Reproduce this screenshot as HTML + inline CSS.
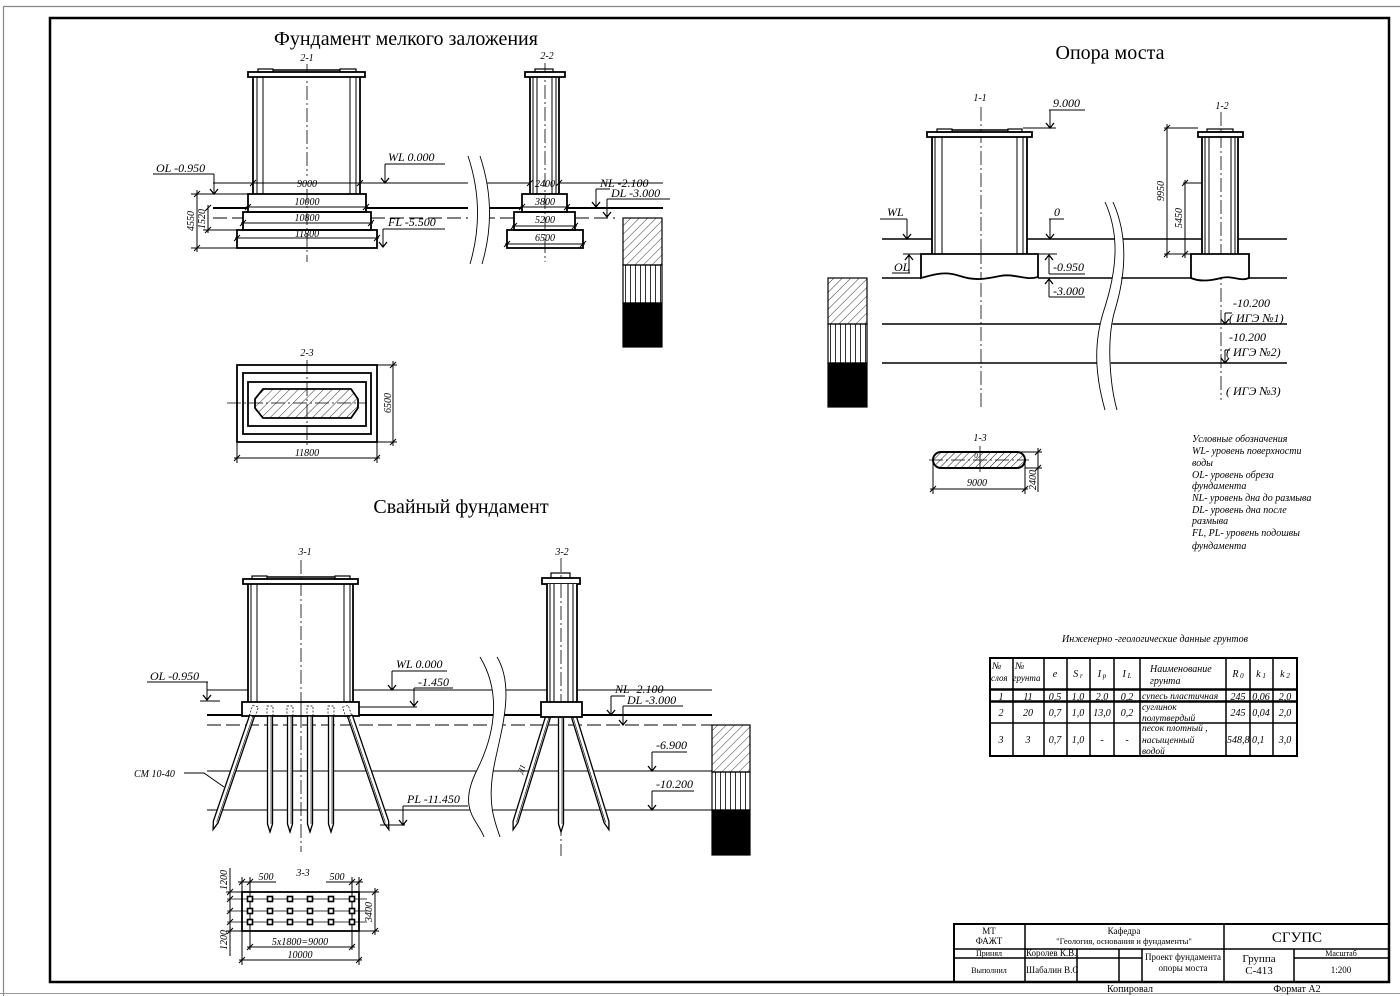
<!DOCTYPE html>
<html><head><meta charset="utf-8"><style>
html,body{margin:0;padding:0;background:#fff;}
svg{display:block}
text{font-family:"Liberation Serif","DejaVu Serif",serif;fill:#000;stroke:none}
.i{font-style:italic;font-size:12px}
.s{font-style:italic;font-size:10px}
.lg{font-style:italic;font-size:10px}
.tb{font-size:9px}
.ttl{font-size:20px}
.c{text-anchor:middle}
</style></head><body>
<svg width="1400" height="996" viewBox="0 0 1400 996" xmlns="http://www.w3.org/2000/svg">
<defs>
<pattern id="hd" width="6" height="6" patternUnits="userSpaceOnUse" patternTransform="rotate(45)"><line x1="0" y1="0" x2="0" y2="6" stroke="#000" stroke-width="0.8"/></pattern>
<pattern id="hd2" width="5" height="5" patternUnits="userSpaceOnUse" patternTransform="rotate(45)"><line x1="0" y1="0" x2="0" y2="5" stroke="#000" stroke-width="0.9"/></pattern>
<pattern id="hv" width="5" height="10" patternUnits="userSpaceOnUse"><line x1="0.5" y1="0" x2="0.5" y2="10" stroke="#000" stroke-width="0.8"/></pattern>
</defs>
<rect width="1400" height="996" fill="#fff"/>
<!-- frames -->
<line x1="3" y1="6.5" x2="1400" y2="6.5" stroke="#888" stroke-width="1.2"/>
<line x1="3.5" y1="6" x2="3.5" y2="996" stroke="#888" stroke-width="1.2"/>
<line x1="0" y1="993.5" x2="1400" y2="993.5" stroke="#999" stroke-width="1"/>
<rect x="50" y="18" width="1339" height="964" fill="none" stroke="#000" stroke-width="2.5"/>

<g fill="none" stroke="#000" stroke-width="1">
<!-- section 2-1 -->
<line x1="307" y1="64" x2="307" y2="176" stroke-width="0.8" stroke-dasharray="14 3 2 3"/>
<line x1="307" y1="189" x2="307" y2="262" stroke-width="0.8" stroke-dasharray="14 3 2 3"/>
<rect x="248" y="72" width="117" height="5" stroke-width="1.8" fill="#fff"/>
<rect x="258" y="69" width="15" height="3" stroke-width="1.2"/>
<rect x="340" y="69" width="16" height="3" stroke-width="1.2"/>
<line x1="273" y1="70" x2="340" y2="70" stroke-width="1.5"/>
<line x1="253" y1="77" x2="253" y2="194" stroke-width="1.8"/>
<line x1="360" y1="77" x2="360" y2="194" stroke-width="1.8"/>
<line x1="257" y1="77" x2="257" y2="194"/>
<line x1="263" y1="77" x2="263" y2="194"/>
<line x1="350" y1="77" x2="350" y2="194"/>
<line x1="356" y1="77" x2="356" y2="194"/>
<rect x="248" y="194" width="118" height="18" stroke-width="1.8"/>
<rect x="243" y="212" width="128" height="18" stroke-width="1.8"/>
<rect x="237" y="230" width="140" height="18" stroke-width="1.8"/>
<line x1="213" y1="183" x2="468" y2="183"/>
<line x1="481" y1="183" x2="530" y2="183"/>
<line x1="559" y1="183" x2="663" y2="183"/>
<line x1="246" y1="207" x2="368" y2="207"/>
<line x1="241" y1="223" x2="373" y2="223"/>
<line x1="235" y1="238" x2="379" y2="238"/>
<line x1="213" y1="208" x2="248" y2="208" stroke-width="2"/>
<line x1="366" y1="208" x2="468" y2="208" stroke-width="2"/>
<line x1="481" y1="208" x2="522" y2="208" stroke-width="2"/>
<line x1="567" y1="208" x2="663" y2="208" stroke-width="2"/>
<line x1="213" y1="218" x2="243" y2="218" stroke-dasharray="14 5"/>
<line x1="371" y1="218" x2="468" y2="218" stroke-dasharray="14 5"/>
<line x1="481" y1="218" x2="514" y2="218" stroke-dasharray="14 5"/>
<line x1="575" y1="218" x2="615" y2="218" stroke-dasharray="14 5"/>
<line x1="191" y1="194" x2="248" y2="194"/>
<line x1="191" y1="248" x2="237" y2="248"/>
<line x1="197" y1="190" x2="197" y2="252"/>
<line x1="203" y1="230" x2="243" y2="230"/>
<line x1="208" y1="205" x2="208" y2="233"/>
<line x1="153" y1="174" x2="214" y2="174"/><line x1="214" y1="174" x2="214" y2="194"/>
<line x1="385" y1="164" x2="445" y2="164"/><line x1="385" y1="164" x2="385" y2="183"/>
<line x1="383" y1="229" x2="445" y2="229"/><line x1="383" y1="229" x2="383" y2="247"/>
<line x1="596" y1="189" x2="610" y2="189"/><line x1="596" y1="189" x2="596" y2="207"/>
<line x1="607" y1="199" x2="670" y2="199"/><line x1="607" y1="199" x2="607" y2="217"/>
<path d="M210 189L214 194L218 189 M381 178L385 183L389 178 M379 242L383 247L387 242 M592 202L596 207L600 202 M603 212L607 217L611 212" stroke-width="1.3"/>
<!-- section 2-2 -->
<line x1="545" y1="63" x2="545" y2="262" stroke-width="0.8" stroke-dasharray="14 3 2 3"/>
<rect x="525" y="72" width="40" height="5" stroke-width="1.8" fill="#fff"/>
<rect x="535" y="69" width="18" height="3" stroke-width="1.2"/>
<line x1="530" y1="77" x2="530" y2="194" stroke-width="1.8"/>
<line x1="559" y1="77" x2="559" y2="194" stroke-width="1.8"/>
<line x1="533" y1="77" x2="533" y2="194"/>
<line x1="537" y1="77" x2="537" y2="194"/>
<line x1="552" y1="77" x2="552" y2="194"/>
<line x1="556" y1="77" x2="556" y2="194"/>
<rect x="522" y="194" width="45" height="18" stroke-width="1.8"/>
<rect x="514" y="212" width="61" height="18" stroke-width="1.8"/>
<rect x="507" y="230" width="76" height="18" stroke-width="1.8"/>
<line x1="520" y1="207" x2="569" y2="207"/>
<line x1="512" y1="226" x2="577" y2="226"/>
<line x1="505" y1="244" x2="585" y2="244"/>
<path d="M250 186l6-6M357 186l6-6M245 210l6-6M363 210l6-6M240 226l6-6M368 226l6-6M234 241l6-6M374 241l6-6M194 197l6-6M194 251l6-6M205 211l6-6M205 233l6-6M527 186l6-6M556 186l6-6M519 210l6-6M564 210l6-6M511 229l6-6M572 229l6-6M504 247l6-6M580 247l6-6"/>
<rect x="623" y="218" width="39" height="47" fill="url(#hd)" stroke-width="1.2"/>
<rect x="623" y="265" width="39" height="38" fill="url(#hv)" stroke-width="1.2"/>
<rect x="623" y="303" width="39" height="44" fill="#000" stroke-width="1.2"/>
<path d="M468 156 Q486 210 470 264 L482 264 Q498 210 480 156 Z" fill="#fff" stroke="none"/>
<path d="M468 156 Q486 210 470 264 M480 156 Q498 210 482 264" stroke-width="0.9"/>

<!-- section 2-3 -->
<line x1="307" y1="360" x2="307" y2="447" stroke-width="0.8" stroke-dasharray="14 3 2 3"/>
<rect x="237" y="365" width="140" height="77" stroke-width="1.8"/>
<rect x="243" y="373" width="128" height="61" stroke-width="1.8"/>
<rect x="248" y="382" width="118" height="44" stroke-width="1.8"/>
<polygon points="263,389 351,389 358,399 358,408 351,418 263,418 255,408 255,399" fill="url(#hd)" stroke-width="1.8"/>
<line x1="227" y1="403" x2="367" y2="403" stroke-width="0.8" stroke-dasharray="14 3 2 3"/>
<line x1="237" y1="442" x2="237" y2="463"/><line x1="377" y1="442" x2="377" y2="463"/>
<line x1="234" y1="458" x2="380" y2="458"/>
<line x1="377" y1="365" x2="397" y2="365"/><line x1="377" y1="442" x2="397" y2="442"/>
<line x1="393" y1="361" x2="393" y2="446"/>
<path d="M234 461l6-6M374 461l6-6M390 368l6-6M390 445l6-6"/>

<!-- Свайный фундамент -->
<line x1="301" y1="560" x2="301" y2="852" stroke-width="0.8" stroke-dasharray="14 3 2 3"/>
<line x1="561" y1="558" x2="561" y2="856" stroke-width="0.8" stroke-dasharray="14 3 2 3"/>
<line x1="207" y1="690" x2="248" y2="690"/>
<line x1="353" y1="690" x2="712" y2="690"/>
<line x1="359" y1="707" x2="417" y2="707"/>
<line x1="207" y1="715" x2="242" y2="715" stroke-width="2"/>
<line x1="359" y1="715" x2="712" y2="715" stroke-width="2"/>
<line x1="207" y1="725" x2="712" y2="725" stroke-dasharray="14 5"/>
<line x1="207" y1="771" x2="712" y2="771"/>
<line x1="207" y1="810" x2="712" y2="810"/>
<rect x="243" y="579" width="115" height="5" stroke-width="1.8" fill="#fff"/>
<rect x="252" y="576" width="15" height="3" stroke-width="1.2"/>
<rect x="335" y="576" width="15" height="3" stroke-width="1.2"/>
<line x1="267" y1="577" x2="335" y2="577" stroke-width="1.5"/>
<line x1="248" y1="584" x2="248" y2="702" stroke-width="1.8"/>
<line x1="353" y1="584" x2="353" y2="702" stroke-width="1.8"/>
<line x1="251" y1="584" x2="251" y2="702"/>
<line x1="257" y1="584" x2="257" y2="702"/>
<line x1="344" y1="584" x2="344" y2="702"/>
<line x1="350" y1="584" x2="350" y2="702"/>
<rect x="242" y="702" width="117" height="14" stroke-width="1.8" fill="#fff"/>
<g stroke-width="0.7" stroke-dasharray="2 1.5">
<rect x="267" y="706" width="6" height="10"/><rect x="287" y="706" width="6" height="10"/>
<rect x="307" y="706" width="6" height="10"/><rect x="328" y="706" width="6" height="10"/>
<rect x="251" y="706" width="6" height="10" transform="rotate(18 254 711)"/>
<rect x="344" y="706" width="6" height="10" transform="rotate(-18 347 711)"/>
</g>
<line x1="301" y1="702" x2="301" y2="716" stroke-width="0.8"/>
<g fill="#fff" stroke-width="1.3">
<g transform="translate(270,716)"><polygon points="-2.5,0 2.5,0 2.5,108 0,116 -2.5,108"/><line x1="1" y1="0" x2="1" y2="108" stroke-width="0.6"/></g>
<g transform="translate(290,716)"><polygon points="-2.5,0 2.5,0 2.5,108 0,116 -2.5,108"/><line x1="1" y1="0" x2="1" y2="108" stroke-width="0.6"/></g>
<g transform="translate(310,716)"><polygon points="-2.5,0 2.5,0 2.5,108 0,116 -2.5,108"/><line x1="1" y1="0" x2="1" y2="108" stroke-width="0.6"/></g>
<g transform="translate(331,716)"><polygon points="-2.5,0 2.5,0 2.5,108 0,116 -2.5,108"/><line x1="1" y1="0" x2="1" y2="108" stroke-width="0.6"/></g>
<g transform="translate(252,716) rotate(18.9)"><polygon points="-2.5,0 2.5,0 2.5,112 0,120 -2.5,112"/><line x1="1" y1="0" x2="1" y2="112" stroke-width="0.6"/></g>
<g transform="translate(350,716) rotate(-18.9)"><polygon points="-2.5,0 2.5,0 2.5,112 0,120 -2.5,112"/><line x1="-1" y1="0" x2="-1" y2="112" stroke-width="0.6"/></g>
<g transform="translate(561,717)"><polygon points="-2.5,0 2.5,0 2.5,107 0,115 -2.5,107"/><line x1="1" y1="0" x2="1" y2="107" stroke-width="0.6"/></g>
<g transform="translate(548,717) rotate(17.2)"><polygon points="-2.5,0 2.5,0 2.5,110 0,118 -2.5,110"/><line x1="1" y1="0" x2="1" y2="110" stroke-width="0.6"/></g>
<g transform="translate(574,717) rotate(-17.2)"><polygon points="-2.5,0 2.5,0 2.5,110 0,118 -2.5,110"/><line x1="-1" y1="0" x2="-1" y2="110" stroke-width="0.6"/></g>
</g>
<rect x="542" y="578" width="38" height="6" stroke-width="1.8" fill="#fff"/>
<rect x="551" y="573" width="19" height="5" stroke-width="1.2"/>
<rect x="547" y="584" width="30" height="118" fill="#fff" stroke="none"/>
<line x1="547" y1="584" x2="547" y2="702" stroke-width="1.8"/>
<line x1="577" y1="584" x2="577" y2="702" stroke-width="1.8"/>
<line x1="550" y1="584" x2="550" y2="702"/>
<line x1="554" y1="584" x2="554" y2="702"/>
<line x1="568" y1="584" x2="568" y2="702"/>
<line x1="573" y1="584" x2="573" y2="702"/>
<line x1="561" y1="584" x2="561" y2="702" stroke-width="0.8" stroke-dasharray="14 3 2 3"/>
<rect x="541" y="702" width="41" height="15" stroke-width="1.8" fill="#fff"/>
<line x1="147" y1="682" x2="208" y2="682"/><line x1="207" y1="682" x2="207" y2="700"/><line x1="200" y1="701" x2="220" y2="701"/>
<line x1="392" y1="671" x2="447" y2="671"/><line x1="392" y1="671" x2="392" y2="690"/>
<line x1="414" y1="688" x2="453" y2="688"/><line x1="414" y1="688" x2="414" y2="706"/>
<path d="M184 773H204L224 787"/>
<line x1="403" y1="806" x2="468" y2="806"/><line x1="403" y1="806" x2="403" y2="825"/><line x1="380" y1="825" x2="405" y2="825"/>
<line x1="611" y1="696" x2="625" y2="696"/><line x1="611" y1="696" x2="611" y2="715"/>
<line x1="623" y1="706" x2="683" y2="706"/><line x1="623" y1="706" x2="623" y2="725"/>
<line x1="652" y1="752" x2="687" y2="752"/><line x1="652" y1="752" x2="652" y2="771"/>
<line x1="652" y1="791" x2="694" y2="791"/><line x1="652" y1="791" x2="652" y2="810"/>
<path d="M203 695L207 700L211 695 M388 685L392 690L396 685 M410 701L414 706L418 701 M399 820L403 825L407 820 M607 710L611 715L615 710 M619 720L623 725L627 720 M648 766L652 771L656 766 M648 805L652 810L656 805" stroke-width="1.3"/>
<rect x="712" y="725" width="38" height="47" fill="url(#hd)" stroke-width="1.2"/>
<rect x="712" y="772" width="38" height="38" fill="url(#hv)" stroke-width="1.2"/>
<rect x="712" y="810" width="38" height="45" fill="#000" stroke-width="1.2"/>
<path d="M480 657 C500 690 497 730 477 770 S478 820 484 837 L500 837 C494 820 488 800 493 772 S517 690 497 657 Z" fill="#fff" stroke="none"/>
<path d="M480 657 C500 690 497 730 477 770 S478 820 484 837 M497 657 C517 690 498 740 493 772 S494 820 500 837" stroke-width="0.9"/>

<!-- section 3-3 -->
<line x1="242" y1="877" x2="242" y2="965"/><line x1="250" y1="877" x2="250" y2="950"/>
<line x1="352" y1="877" x2="352" y2="950"/><line x1="359" y1="877" x2="359" y2="965"/>
<line x1="238" y1="882" x2="276" y2="882"/><line x1="326" y1="882" x2="363" y2="882"/>
<line x1="227" y1="899" x2="367" y2="899" stroke-width="0.8"/>
<line x1="227" y1="911" x2="367" y2="911" stroke-width="0.8"/>
<line x1="227" y1="922" x2="367" y2="922" stroke-width="0.8"/>
<line x1="226" y1="892" x2="242" y2="892"/><line x1="226" y1="931" x2="242" y2="931"/>
<line x1="230" y1="868" x2="230" y2="956"/>
<line x1="359" y1="892" x2="379" y2="892"/><line x1="359" y1="931" x2="379" y2="931"/>
<line x1="375" y1="888" x2="375" y2="935"/>
<line x1="247" y1="947" x2="355" y2="947"/>
<line x1="239" y1="960" x2="362" y2="960"/>
<rect x="242" y="892" width="117" height="39" stroke-width="1.8"/>
<g stroke-width="1.6" fill="#fff">
<rect x="247.5" y="896.5" width="5" height="5"/><rect x="267.5" y="896.5" width="5" height="5"/><rect x="287.5" y="896.5" width="5" height="5"/><rect x="307.5" y="896.5" width="5" height="5"/><rect x="328.5" y="896.5" width="5" height="5"/><rect x="349.5" y="896.5" width="5" height="5"/>
<rect x="247.5" y="908.5" width="5" height="5"/><rect x="267.5" y="908.5" width="5" height="5"/><rect x="287.5" y="908.5" width="5" height="5"/><rect x="307.5" y="908.5" width="5" height="5"/><rect x="328.5" y="908.5" width="5" height="5"/><rect x="349.5" y="908.5" width="5" height="5"/>
<rect x="247.5" y="919.5" width="5" height="5"/><rect x="267.5" y="919.5" width="5" height="5"/><rect x="287.5" y="919.5" width="5" height="5"/><rect x="307.5" y="919.5" width="5" height="5"/><rect x="328.5" y="919.5" width="5" height="5"/><rect x="349.5" y="919.5" width="5" height="5"/>
</g>
<path d="M239 885l6-6M247 885l6-6M349 885l6-6M356 885l6-6M227 895l6-6M227 902l6-6M227 914l6-6M227 925l6-6M227 934l6-6M372 895l6-6M372 934l6-6M247 950l6-6M349 950l6-6M239 963l6-6M356 963l6-6"/>

<!-- Опора моста -->
<line x1="981" y1="107" x2="981" y2="408" stroke-width="0.8" stroke-dasharray="14 3 2 3"/>
<line x1="1221" y1="112" x2="1221" y2="400" stroke-width="0.8" stroke-dasharray="14 3 2 3"/>
<line x1="882" y1="239" x2="932" y2="239" stroke-width="1.5"/>
<line x1="1027" y1="239" x2="1202" y2="239" stroke-width="1.5"/>
<line x1="1238" y1="239" x2="1287" y2="239" stroke-width="1.5"/>
<line x1="882" y1="278" x2="921" y2="278" stroke-width="1.5"/>
<line x1="1038" y1="278" x2="1191" y2="278" stroke-width="1.5"/>
<line x1="1249" y1="278" x2="1287" y2="278" stroke-width="1.5"/>
<line x1="882" y1="324" x2="1287" y2="324" stroke-width="1.5"/>
<line x1="882" y1="363" x2="1287" y2="363" stroke-width="1.5"/>
<rect x="927" y="132" width="105" height="5" stroke-width="1.8" fill="#fff"/>
<rect x="937" y="129" width="15" height="3" stroke-width="1.2"/>
<rect x="1008" y="129" width="14" height="3" stroke-width="1.2"/>
<line x1="952" y1="130" x2="1008" y2="130" stroke-width="1.5"/>
<line x1="932" y1="137" x2="932" y2="254" stroke-width="1.8"/>
<line x1="1027" y1="137" x2="1027" y2="254" stroke-width="1.8"/>
<line x1="935" y1="137" x2="935" y2="254"/>
<line x1="942" y1="137" x2="942" y2="254"/>
<line x1="1017" y1="137" x2="1017" y2="254"/>
<line x1="1023" y1="137" x2="1023" y2="254"/>
<path d="M921 254 H1038 V277 C1025 281 1015 273 1000 276 S975 281 960 276 S935 274 921 278 Z" stroke-width="1.8" fill="#fff"/>
<line x1="981" y1="254" x2="981" y2="279" stroke-width="0.8" stroke-dasharray="10 3 2 3"/>
<rect x="1198" y="132" width="45" height="5" stroke-width="1.8" fill="#fff"/>
<rect x="1207" y="129" width="26" height="3" stroke-width="1.2"/>
<line x1="1202" y1="137" x2="1202" y2="254" stroke-width="1.8"/>
<line x1="1238" y1="137" x2="1238" y2="254" stroke-width="1.8"/>
<line x1="1205" y1="137" x2="1205" y2="254"/>
<line x1="1209" y1="137" x2="1209" y2="254"/>
<line x1="1231" y1="137" x2="1231" y2="254"/>
<line x1="1235" y1="137" x2="1235" y2="254"/>
<path d="M1191 254 H1249 V278 C1240 282 1232 275 1221 278 S1200 282 1191 278 Z" stroke-width="1.8" fill="#fff"/>
<line x1="1164" y1="128" x2="1198" y2="128"/>
<line x1="1164" y1="254" x2="1191" y2="254"/>
<line x1="1167" y1="124" x2="1167" y2="258"/>
<line x1="1183" y1="183" x2="1202" y2="183"/>
<line x1="1185" y1="180" x2="1185" y2="258"/>
<path d="M1164 131l6-6M1164 257l6-6M1182 186l6-6M1182 257l6-6"/>
<line x1="1049" y1="110" x2="1085" y2="110"/><line x1="1050" y1="110" x2="1050" y2="128"/><line x1="1023" y1="128" x2="1056" y2="128"/>
<line x1="880" y1="219" x2="907" y2="219"/><line x1="907" y1="219" x2="907" y2="239"/>
<line x1="1049" y1="219" x2="1064" y2="219"/><line x1="1050" y1="219" x2="1050" y2="239"/>
<line x1="892" y1="273" x2="910" y2="273"/><line x1="909" y1="273" x2="909" y2="255"/><line x1="903" y1="254" x2="921" y2="254"/>
<line x1="1049" y1="274" x2="1085" y2="274"/><line x1="1049" y1="274" x2="1049" y2="255"/><line x1="1038" y1="254" x2="1057" y2="254"/>
<line x1="1049" y1="297" x2="1085" y2="297"/><line x1="1049" y1="297" x2="1049" y2="279"/>
<line x1="1225" y1="313" x2="1232" y2="313"/><line x1="1225" y1="313" x2="1225" y2="324"/>
<line x1="1225" y1="350" x2="1230" y2="350"/><line x1="1225" y1="350" x2="1225" y2="363"/>
<path d="M1046 123L1050 128L1054 123 M903 234L907 239L911 234 M1046 234L1050 239L1054 234 M905 260L909 255L913 260 M1045 260L1049 255L1053 260 M1045 284L1049 279L1053 284 M1221 319L1225 324L1229 319 M1221 358L1225 363L1229 358" stroke-width="1.3"/>
<rect x="828" y="278" width="39" height="46" fill="url(#hd)" stroke-width="1.2"/>
<rect x="828" y="324" width="39" height="39" fill="url(#hv)" stroke-width="1.2"/>
<rect x="828" y="363" width="39" height="44" fill="#000" stroke-width="1.2"/>
<path d="M1105 202 C1120 235 1117 270 1104 310 S1098 385 1105 410 L1117 410 C1110 385 1108 340 1115 310 S1130 240 1113 202 Z" fill="#fff" stroke="none"/>
<path d="M1105 202 C1120 235 1117 270 1104 310 S1098 385 1105 410 M1113 202 C1130 240 1124 280 1115 310 S1110 385 1117 410" stroke-width="0.9"/>

<!-- section 1-3 -->
<rect x="933" y="452" width="92" height="16" rx="8" ry="8" fill="url(#hd2)" stroke-width="2"/>
<line x1="929" y1="460" x2="1029" y2="460" stroke-width="0.8" stroke-dasharray="14 3 2 3"/>
<line x1="980" y1="446" x2="980" y2="472" stroke-width="0.8"/>
<line x1="933" y1="462" x2="933" y2="494"/><line x1="1025" y1="462" x2="1025" y2="494"/>
<line x1="930" y1="489" x2="1028" y2="489"/>
<line x1="1020" y1="452" x2="1042" y2="452"/><line x1="1025" y1="468" x2="1042" y2="468"/>
<line x1="1038" y1="448" x2="1038" y2="492"/>
<path d="M930 492l6-6M1022 492l6-6M1035 455l6-6M1035 471l6-6"/>

<!-- table -->
<rect x="990" y="658" width="307" height="98" stroke-width="2"/>
<g stroke-width="1.5">
<line x1="1013" y1="658" x2="1013" y2="756"/><line x1="1044" y1="658" x2="1044" y2="756"/>
<line x1="1067" y1="658" x2="1067" y2="756"/><line x1="1090" y1="658" x2="1090" y2="756"/>
<line x1="1114" y1="658" x2="1114" y2="756"/><line x1="1140" y1="658" x2="1140" y2="756"/>
<line x1="1226" y1="658" x2="1226" y2="756"/><line x1="1250" y1="658" x2="1250" y2="756"/>
<line x1="1273" y1="658" x2="1273" y2="756"/>
<line x1="990" y1="723" x2="1297" y2="723"/>
</g>
<line x1="990" y1="689.5" x2="1297" y2="689.5" stroke-width="2.5"/>
<line x1="990" y1="701.5" x2="1297" y2="701.5" stroke-width="2.5"/>

<!-- title block -->
<rect x="954" y="924" width="435" height="58" stroke-width="2"/>
<g stroke-width="1.5">
<line x1="1025" y1="924" x2="1025" y2="982"/>
<line x1="1224" y1="924" x2="1224" y2="982"/>
<line x1="954" y1="949" x2="1389" y2="949"/>
<line x1="954" y1="958" x2="1142" y2="958"/>
<line x1="1294" y1="958" x2="1389" y2="958"/>
<line x1="1077" y1="949" x2="1077" y2="982"/>
<line x1="1119" y1="949" x2="1119" y2="982"/>
<line x1="1142" y1="949" x2="1142" y2="982"/>
<line x1="1294" y1="949" x2="1294" y2="982"/>
</g>
</g>

<!-- TEXT -->
<text class="ttl c" x="406" y="45">Фундамент мелкого заложения</text>
<text class="ttl c" x="1110" y="59">Опора моста</text>
<text class="ttl c" x="461" y="513">Свайный фундамент</text>

<text class="s c" x="307" y="61">2-1</text>
<text class="s c" x="547" y="59">2-2</text>
<text class="s c" x="307" y="356">2-3</text>
<text class="s c" x="305" y="555">3-1</text>
<text class="s c" x="562" y="555">3-2</text>
<text class="s c" x="303" y="876">3-3</text>
<text class="s c" x="980" y="101">1-1</text>
<text class="s c" x="1222" y="109">1-2</text>
<text class="s c" x="980" y="441">1-3</text>

<text class="i" x="156" y="172">OL  -0.950</text>
<text class="i" x="388" y="161">WL  0.000</text>
<text class="i" x="388" y="226">FL  -5.500</text>
<text class="i" x="600" y="187">NL  -2.100</text>
<text class="i" x="611" y="197">DL  -3.000</text>
<text class="s c" x="307" y="187">9000</text>
<text class="s c" x="307" y="205">10000</text>
<text class="s c" x="307" y="221">10800</text>
<text class="s c" x="307" y="237">11800</text>
<text class="s c" x="545" y="187">2400</text>
<text class="s c" x="545" y="205">3800</text>
<text class="s c" x="545" y="223">5200</text>
<text class="s c" x="545" y="241">6500</text>
<text class="s c" transform="translate(194 221) rotate(-90)">4550</text>
<text class="s c" transform="translate(205 219) rotate(-90)">1520</text>
<text class="s c" x="307" y="456">11800</text>
<text class="s c" transform="translate(391 403) rotate(-90)">6500</text>

<text class="i" x="150" y="680">OL  -0.950</text>
<text class="i" x="396" y="668">WL  0.000</text>
<text class="i" x="418" y="686">-1.450</text>
<text class="s" x="134" y="777">CM 10-40</text>
<text class="i" x="407" y="803">PL  -11.450</text>
<text class="i" x="615" y="693">NL  -2.100</text>
<text class="i" x="627" y="704">DL  -3.000</text>
<text class="i" x="656" y="749">-6.900</text>
<text class="i" x="656" y="788">-10.200</text>
<text class="s c" style="font-size:8px" transform="translate(524 770) rotate(-70)">Д1</text>
<text class="s c" x="266" y="880">500</text>
<text class="s c" x="337" y="880">500</text>
<text class="s c" transform="translate(227 880) rotate(-90)">1200</text>
<text class="s c" transform="translate(227 940) rotate(-90)">1200</text>
<text class="s c" transform="translate(372 912) rotate(-90)">3400</text>
<text class="s c" x="300" y="945">5x1800=9000</text>
<text class="s c" x="300" y="958">10000</text>

<text class="i" x="1053" y="107">9.000</text>
<text class="i" x="887" y="216">WL</text>
<text class="i" x="1054" y="216">0</text>
<text class="i" x="894" y="271">OL</text>
<text class="i" x="1053" y="271">-0.950</text>
<text class="i" x="1053" y="295">-3.000</text>
<text class="i" x="1233" y="307">-10.200</text>
<text class="i" x="1229" y="322">( ИГЭ №1)</text>
<text class="i" x="1229" y="341">-10.200</text>
<text class="i" x="1226" y="356">( ИГЭ №2)</text>
<text class="i" x="1226" y="395">( ИГЭ №3)</text>
<text class="s c" transform="translate(1164 191) rotate(-90)">9950</text>
<text class="s c" transform="translate(1182 218) rotate(-90)">5450</text>
<text class="s c" style="font-size:7px" x="976" y="458">0</text>
<text class="s c" x="977" y="486">9000</text>
<text class="s c" transform="translate(1036 480) rotate(-90)">2400</text>

<text class="lg" x="1192" y="442">Условные обозначения</text>
<text class="lg" x="1192" y="454">WL- уровень поверхности</text>
<text class="lg" x="1192" y="466">воды</text>
<text class="lg" x="1192" y="478">OL- уровень обреза</text>
<text class="lg" x="1192" y="489">фундамента</text>
<text class="lg" x="1192" y="501">NL- уровень дна до размыва</text>
<text class="lg" x="1192" y="513">DL- уровень дна после</text>
<text class="lg" x="1192" y="524">размыва</text>
<text class="lg" x="1192" y="536">FL, PL- уровень подошвы</text>
<text class="lg" x="1192" y="549">фундамента</text>

<text class="lg c" x="1155" y="642">Инженерно -геологические данные грунтов</text>
<g class="lg" style="font-size:10px">
<text x="992" y="669">№</text><text x="991" y="681" style="font-size:9px">слоя</text>
<text x="1015" y="669">№</text><text x="1013" y="681" style="font-size:9px">грунта</text>
<text class="c" x="1055" y="677">e</text>
<text class="c" x="1078" y="677">S<tspan style="font-size:7px" dy="1"> r</tspan></text>
<text class="c" x="1102" y="677">I<tspan style="font-size:7px" dy="1"> p</tspan></text>
<text class="c" x="1127" y="677">I<tspan style="font-size:7px" dy="1"> L</tspan></text>
<text x="1150" y="672">Наименование</text><text x="1150" y="684">грунта</text>
<text class="c" x="1238" y="677">R<tspan style="font-size:7px" dy="1"> 0</tspan></text>
<text class="c" x="1261" y="677">k<tspan style="font-size:7px" dy="1"> 1</tspan></text>
<text class="c" x="1285" y="677">k<tspan style="font-size:7px" dy="1"> 2</tspan></text>

<text class="c" x="1001" y="700">1</text><text class="c" x="1028" y="700">11</text>
<text class="c" x="1055" y="700">0,5</text><text class="c" x="1078" y="700">1,0</text>
<text class="c" x="1102" y="700">2,0</text><text class="c" x="1127" y="700">0,2</text>
<text x="1142" y="699" style="font-size:9.5px">супесь пластичная</text>
<text class="c" x="1238" y="700">245</text><text class="c" x="1261" y="700">0,06</text><text class="c" x="1285" y="700">2,0</text>

<text class="c" x="1001" y="716">2</text><text class="c" x="1028" y="716">20</text>
<text class="c" x="1055" y="716">0,7</text><text class="c" x="1078" y="716">1,0</text>
<text class="c" x="1102" y="716">13,0</text><text class="c" x="1127" y="716">0,2</text>
<text x="1142" y="710" style="font-size:9.5px">суглинок</text>
<text x="1142" y="721" style="font-size:9.5px">полутвердый</text>
<text class="c" x="1238" y="716">245</text><text class="c" x="1261" y="716">0,04</text><text class="c" x="1285" y="716">2,0</text>

<text class="c" x="1001" y="743">3</text><text class="c" x="1028" y="743">3</text>
<text class="c" x="1055" y="743">0,7</text><text class="c" x="1078" y="743">1,0</text>
<text class="c" x="1102" y="743">-</text><text class="c" x="1127" y="743">-</text>
<text x="1142" y="731" style="font-size:9.5px">песок плотный ,</text>
<text x="1142" y="743" style="font-size:9.5px">насыщенный</text>
<text x="1142" y="754" style="font-size:9.5px">водой</text>
<text x="1227" y="743">548,8</text><text x="1252" y="743">0,1</text><text class="c" x="1285" y="743">3,0</text>
</g>

<text class="tb c" x="989" y="934">МТ</text>
<text class="tb c" x="989" y="944">ФАЖТ</text>
<text class="tb c" x="1124" y="934">Кафедра</text>
<text class="tb c" x="1124" y="944" style="font-size:8.5px">"Геология, основания и фундаменты"</text>
<text class="c" x="1297" y="942" style="font-size:15px">СГУПС</text>
<text class="tb c" x="989" y="956" style="font-size:8px">Принял</text>
<text class="tb" x="1026" y="956">Королев К.В.</text>
<text class="tb c" x="989" y="973" style="font-size:8px">Выполнил</text>
<text class="tb" x="1026" y="973">Шабалин В.С</text>
<text class="tb c" x="1183" y="960">Проект фундамента</text>
<text class="tb c" x="1183" y="971">опоры моста</text>
<text class="c" x="1259" y="962" style="font-size:11px">Группа</text>
<text class="c" x="1259" y="974" style="font-size:11px">С-413</text>
<text class="tb c" x="1341" y="956" style="font-size:8px">Масштаб</text>
<text class="tb c" x="1341" y="973">1:200</text>
<text class="c" x="1130" y="992" style="font-size:10px">Копировал</text>
<text class="c" x="1297" y="992" style="font-size:10px">Формат А2</text>
</svg>
</body></html>
